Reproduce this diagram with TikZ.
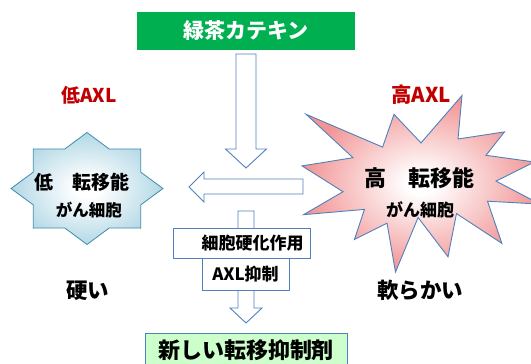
\documentclass[tikz,border=0pt]{standalone}
\usepackage{fontspec}
\setmainfont{Noto Sans CJK JP}
\definecolor{arrowblue}{RGB}{79,129,189}
\definecolor{axlred}{RGB}{192,0,0}
\definecolor{teagreen}{RGB}{0,176,80}
\definecolor{mintfill}{RGB}{204,255,204}
\definecolor{staredge}{RGB}{64,140,168}
\definecolor{iceblue}{RGB}{178,216,230}
\definecolor{salmon}{RGB}{242,148,148}
\pgfdeclareradialshading{coolglow}{\pgfpoint{0bp}{0bp}}{color(0bp)=(white); color(4bp)=(white); color(25bp)=(iceblue); color(50bp)=(iceblue)}
\pgfdeclareradialshading{warmglow}{\pgfpoint{0bp}{0bp}}{color(0bp)=(white); color(3bp)=(white); color(25bp)=(salmon); color(50bp)=(salmon)}
\newcommand\jpsz[1]{\fontsize{#1pt}{#1pt}\selectfont}
\tikzset{
  blockarrow/.style={draw=arrowblue, fill=white, line width=0.9pt, line join=miter},
  flowbox/.style={draw=arrowblue, fill=white, line width=0.9pt, inner sep=0pt},
  boldlabel/.style={inner sep=0pt, font=\bfseries\jpsz{#1}},
  redlabel/.style={boldlabel=#1, text=axlred},
}
\begin{document}
\begin{tikzpicture}[x=1pt, y=-1pt]
\useasboundingbox (0,0) rectangle (531,364);
\clip (0,0) rectangle (531,364);

% left 8-point star
\draw[staredge, line width=0.8pt, shading=coolglow]
  (163,188.5) -- (140.7,204.9) -- (140.7,228.1) -- (109.2,228.0) -- (87,244.5)
  -- (64.8,228.0) -- (33.3,228.1) -- (33.3,204.9) -- (11,188.5) -- (33.3,172.1)
  -- (33.3,148.9) -- (64.8,149.0) -- (87,132.5) -- (109.2,149.0) -- (140.7,148.9)
  -- (140.7,172.1) -- cycle;

% right explosion
\draw[arrowblue, line width=0.9pt, shading=warmglow, line join=miter]
  (421.0,142.9) -- (462.0,95.5) -- (458.0,139.0) -- (504.5,131.9) -- (486.0,155.3)
  -- (534.5,162.0) -- (496.0,181.1) -- (540.0,204.1) -- (487.5,201.2) -- (501.9,243.4)
  -- (456.5,213.6) -- (448.0,256.8) -- (418.1,217.5) -- (395.5,272.0) -- (387.0,223.2)
  -- (354.5,239.4) -- (364.4,209.4) -- (303.5,214.7) -- (343.0,191.7) -- (302.0,165.9)
  -- (353.0,157.7) -- (306.1,114.3) -- (382.6,147.1) -- (394.0,114.3) -- cycle;

% title box
\node[fill=teagreen, minimum width=218pt, minimum height=38pt, inner sep=0pt,
      text=white, font=\bfseries\jpsz{21}] (tea) at (246,31) {緑茶カテキン};

% block arrows
\draw[blockarrow] (236,54) -- (256,54) -- (256,149) -- (266.5,149) -- (246,168)
  -- (225.5,149) -- (236,149) -- cycle;
\draw[blockarrow] (303,179) -- (204,179) -- (204,172) -- (189,187) -- (204,202)
  -- (204,194) -- (303,194) -- cycle;
\draw[blockarrow] (238,211) -- (254,211) -- (254,308) -- (262,308) -- (246,323)
  -- (230,308) -- (238,308) -- cycle;

% boxes on the lower arrow
\node[flowbox, minimum width=137pt, minimum height=30pt, font=\bfseries\jpsz{17}]
  (harden) at (241.5,243) {\hspace*{22pt}細胞硬化作用};
\node[flowbox, minimum width=87pt, minimum height=32pt, font=\bfseries\jpsz{17}]
  (axlinh) at (245.5,274) {AXL抑制};

% result box
\node[draw=arrowblue, fill=mintfill, line width=0.9pt, minimum width=202pt,
      minimum height=34pt, inner sep=0pt, font=\bfseries\jpsz{22}]
  (newdrug) at (246,350) {新しい転移抑制剤};

% labels
\node[redlabel=19] (lowaxl) at (89,95) {低AXL};
\node[redlabel=20.5] (highaxl) at (421,95) {高AXL};
\node[boldlabel=19] (lowmet) at (82,182) {低　転移能};
\node[boldlabel=16.5] (lowcell) at (89,210) {がん細胞};
\node[boldlabel=22] (highmet) at (419,178) {高　転移能};
\node[boldlabel=17] (highcell) at (420,210) {がん細胞};
\node[boldlabel=21.5] (hard) at (88,291) {硬い};
\node[boldlabel=21.5] (soft) at (420,290) {軟らかい};
\end{tikzpicture}
\end{document}
